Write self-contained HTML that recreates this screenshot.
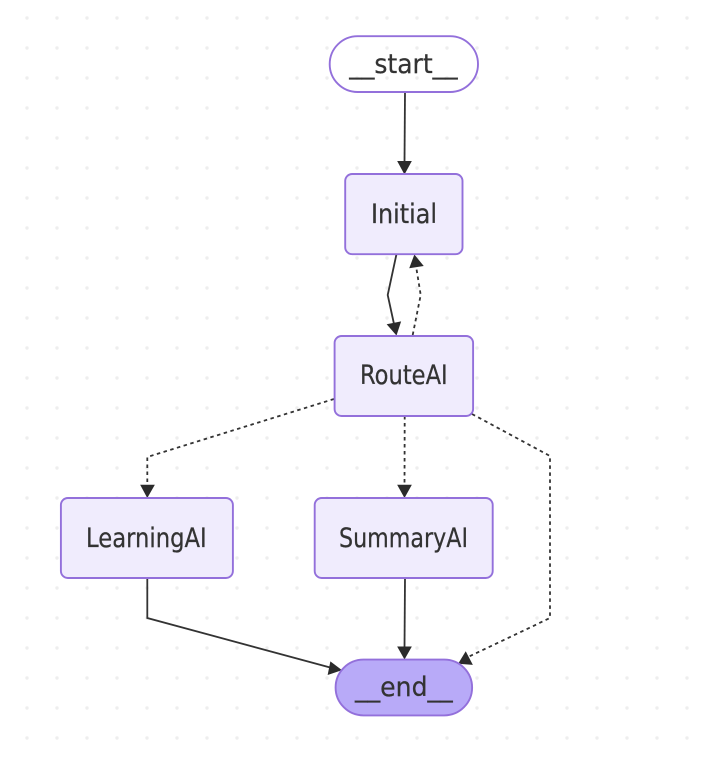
<!DOCTYPE html>
<html><head><meta charset="utf-8"><style>
html,body{margin:0;padding:0;background:#fff;width:705px;height:757px;overflow:hidden}
svg{display:block}
text{font-family:"DejaVu Sans",sans-serif;font-size:27px;fill:#333;stroke:#333;stroke-width:.25}
.n{stroke:#9370db;stroke-width:1.9}
.e{fill:none;stroke:#333;stroke-width:1.8}
.d{stroke-dasharray:3.5 3.5}
.a{fill:#2b2b2b;stroke:#2b2b2b;stroke-width:1;stroke-linejoin:miter}
</style></head><body>
<svg width="705" height="757" viewBox="0 0 705 757" xmlns="http://www.w3.org/2000/svg">
<defs><pattern id="p" x="12" y="3" width="30" height="30" patternUnits="userSpaceOnUse"><circle cx="15" cy="15" r="1.7" fill="#eeeeee"/></pattern></defs>
<rect width="705" height="757" fill="#fff"/>
<rect width="705" height="757" fill="url(#p)"/>

<path class="e" d="M405 92L404.5 163"/>
<path class="e" d="M396.5 254L387.7 295L394 324"/>
<path class="e d" d="M412.7 335L420.7 295L416 266"/>
<path class="e d" d="M334 399L147.3 457L147.3 486"/>
<path class="e d" d="M404.7 416L404.5 486"/>
<path class="e d" d="M472 414L550 456L550 618L466 658"/>
<path class="e" d="M147.3 578L147.3 618L332 668"/>
<path class="e" d="M405 578L404.5 648"/>

<polygon class="a" points="404.5,173.5 398,161.5 411,161.5"/>
<polygon class="a" points="396.3,334.5 387.6,324.6 400.4,322"/>
<polygon class="a" points="414.5,255.5 410,267.6 422.8,265.6"/>
<polygon class="a" points="147.3,497 141,485.3 154,485.3"/>
<polygon class="a" points="404.5,497 398,485.3 411,485.3"/>
<polygon class="a" points="404.5,658.5 398,647 411,647"/>
<polygon class="a" points="341,670 330.7,662.3 328.3,674.3"/>
<polygon class="a" points="459,663.3 465.7,652.3 472,664.3"/>

<rect class="n" x="329.7" y="36.2" width="148.3" height="55.8" rx="27.9" fill="none"/>
<rect class="n" x="345.2" y="174" width="117.3" height="80.2" rx="7" fill="#f0ecfd"/>
<rect class="n" x="334.6" y="336" width="138.5" height="80" rx="7" fill="#f0ecfd"/>
<rect class="n" x="60.9" y="498" width="172" height="80" rx="7" fill="#f0ecfd"/>
<rect class="n" x="314.7" y="498" width="178" height="80" rx="7" fill="#f0ecfd"/>
<rect class="n" x="335.6" y="659.6" width="136.5" height="55.8" rx="27.9" fill="#b8aaf8"/>

<text x="349.3" y="73" textLength="108.4" lengthAdjust="spacingAndGlyphs">__start__</text>
<text x="371" y="223" textLength="66" lengthAdjust="spacingAndGlyphs">Initial</text>
<text x="360" y="384" textLength="87.7" lengthAdjust="spacingAndGlyphs">RouteAI</text>
<text x="86" y="547" textLength="120.7" lengthAdjust="spacingAndGlyphs">LearningAI</text>
<text x="339" y="547" textLength="129" lengthAdjust="spacingAndGlyphs">SummaryAI</text>
<text x="355" y="696" textLength="97.7" lengthAdjust="spacingAndGlyphs">__end__</text>
</svg>
</body></html>
